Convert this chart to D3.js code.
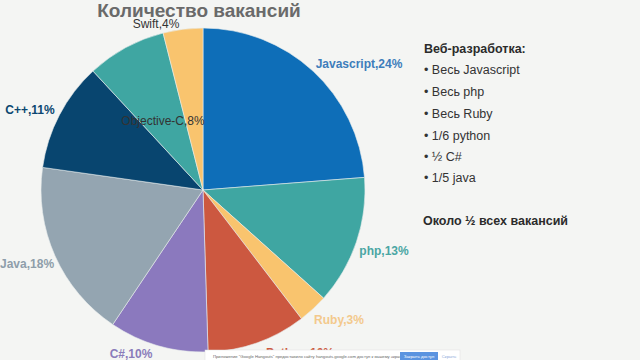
<!DOCTYPE html>
<html>
<head>
<meta charset="utf-8">
<script src="https://cdn.jsdelivr.net/npm/d3@7"></script>
<style>
html,body{margin:0;padding:0;background:#f4f5f3;}
svg{display:block;font-family:"Liberation Sans",Arial,sans-serif;}
</style>
</head>
<body>
<svg id="c" width="640" height="360"></svg>
<script>
const categories = ["Javascript","php","Ruby","Python","C#","Java","C++","Objective-C","Swift"];
const values = [24,13,3,10,10,18,11,8,4];
const sliceColors = ["#0e6eb8","#3fa6a2","#f9c46e","#cc5840","#8b79be","#94a5b1","#08456f","#3fa6a2","#f9c46e"];
const labelColors = ["#3d7dbb","#4aa6a3","#f3c98c","#cc5840","#8a7cba","#8e9eaa","#0b4770","#333333","#333333"];
const labelBold = [true,true,true,true,true,true,true,false,false];
const title = "Количество вакансий";
const sideHeading = "Веб-разработка:";
const sideBullets = ["Весь Javascript","Весь php","Весь Ruby","1/6 python","½ C#","1/5 java"];
const sideSummary = "Около ½ всех вакансий";

const svg = d3.select("#c");
const cx = 203, cy = 190, R = 162;

svg.append("rect").attr("width",640).attr("height",360).attr("fill","#f4f5f3");

const data = categories.map((c,i)=>({name:c,value:values[i],i}));
const pie = d3.pie().value(d=>d.value).sort(null);
const arcs = pie(data);
const arc = d3.arc().innerRadius(0).outerRadius(R);

const g = svg.append("g").attr("transform",`translate(${cx},${cy})`);
g.selectAll("path").data(arcs).join("path")
  .attr("d",arc)
  .attr("fill",d=>sliceColors[d.data.i])
  .attr("stroke","#e8ecec").attr("stroke-width",0.6);

const labelPos = [
  {x:359,y:68,anchor:"middle"},
  {x:384,y:255,anchor:"middle"},
  {x:339,y:324,anchor:"middle"},
  {x:300,y:357,anchor:"middle"},
  {x:131,y:358,anchor:"middle"},
  {x:0,y:268,anchor:"start"},
  {x:30,y:114,anchor:"middle"},
  {x:163,y:125,anchor:"middle"},
  {x:156,y:28,anchor:"middle"}
];
svg.selectAll("text.lbl").data(arcs).join("text")
  .attr("class","lbl")
  .attr("x",d=>labelPos[d.data.i].x)
  .attr("y",d=>labelPos[d.data.i].y)
  .attr("text-anchor",d=>labelPos[d.data.i].anchor)
  .attr("font-size",12)
  .attr("font-weight",d=>labelBold[d.data.i]?"bold":"normal")
  .attr("fill",d=>labelColors[d.data.i])
  .text(d=>`${d.data.name},${d.data.value}%`);

svg.append("text").attr("x",199).attr("y",17).attr("text-anchor","middle")
  .attr("font-size",19).attr("font-weight","bold").attr("fill","#6a6a6a").text(title);

svg.append("text").attr("x",424).attr("y",53).attr("font-size",12.5).attr("font-weight","bold").attr("fill","#2b2b2b").text(sideHeading);
const by = [74,96,118,140,161,182];
svg.selectAll("text.bul").data(sideBullets).join("text")
  .attr("class","bul").attr("x",424).attr("y",(d,i)=>by[i])
  .attr("font-size",12.5).attr("fill","#333").text(d=>"• "+d);
svg.append("text").attr("x",423).attr("y",225).attr("font-size",12.5).attr("font-weight","bold").attr("fill","#2b2b2b").text(sideSummary);

// screen-sharing notification bar
const bar = svg.append("g");
bar.append("rect").attr("x",205).attr("y",350).attr("width",255).attr("height",12).attr("fill","#ffffff").attr("stroke","#dddddd").attr("stroke-width",0.5);
bar.append("text").attr("x",213).attr("y",357.5).attr("font-size",4.2).attr("fill","#666")
  .text("Приложение \"Google Hangouts\" предоставило сайту hangouts.google.com доступ к вашему экрану.");
bar.append("rect").attr("x",400).attr("y",352).attr("width",38).attr("height",9).attr("fill","#5a93e0");
bar.append("text").attr("x",419).attr("y",358).attr("text-anchor","middle").attr("font-size",4.2).attr("fill","#fff").text("Закрыть доступ");
bar.append("text").attr("x",449).attr("y",358).attr("text-anchor","middle").attr("font-size",4.2).attr("fill","#8aa8d8").text("Скрыть");
</script>
</body>
</html>
